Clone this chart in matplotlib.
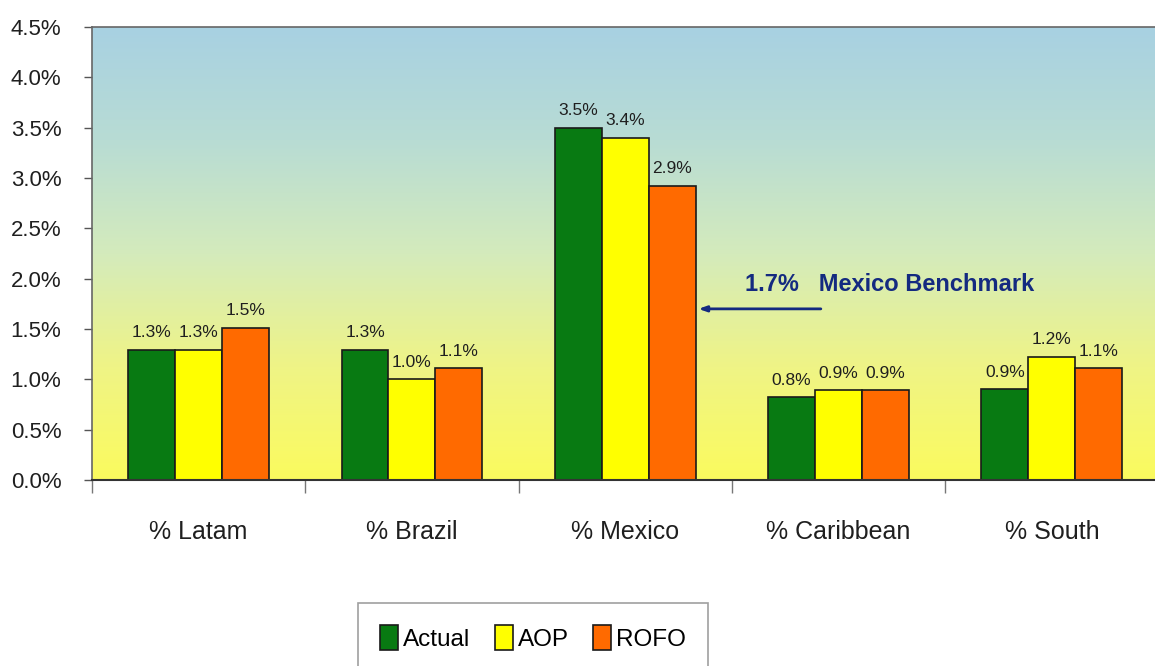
import numpy as np
import matplotlib
matplotlib.use("Agg")
import matplotlib.pyplot as plt
from matplotlib.colors import LinearSegmentedColormap
from matplotlib.patches import Patch

plt.rcParams['font.family'] = ['Liberation Sans', 'DejaVu Sans']

regions = ["% Latam", "% Brazil", "% Mexico", "% Caribbean", "% South"]
actual = [1.29, 1.29, 3.50, 0.82, 0.90]
aop = [1.29, 1.00, 3.40, 0.89, 1.22]
rofo = [1.51, 1.11, 2.92, 0.89, 1.11]
series_names = ["Actual", "AOP", "ROFO"]
series_colors = ["#087a12", "#ffff00", "#ff6a00"]
benchmark = 1.7
yticks = [0.0, 0.5, 1.0, 1.5, 2.0, 2.5, 3.0, 3.5, 4.0, 4.5]

fig = plt.figure(figsize=(11.55, 6.66), dpi=100)
ax = fig.add_axes([92 / 1155, 1 - 480 / 666, 1066.5 / 1155, 453 / 666])

# blue-to-yellow gradient behind the bars
grad = LinearSegmentedColormap.from_list(
    "bg", [(0.0, "#fbfb5e"), (0.25, "#eff486"), (0.5, "#d4ebbc"),
           (0.75, "#b8dcd4"), (1.0, "#a8d1e2")])
ax.imshow(np.linspace(0, 1, 256).reshape(-1, 1), cmap=grad, origin="lower",
          extent=[-0.5, 4.5, 0, 4.5], aspect="auto", zorder=0)

x = np.arange(len(regions))
w = 0.22
for i, (vals, name, col) in enumerate(zip([actual, aop, rofo], series_names, series_colors)):
    bars = ax.bar(x + (i - 1) * w, vals, w, color=col, edgecolor="#1a1a1a",
                  linewidth=1.2, label=name, zorder=2)
    for b, v in zip(bars, vals):
        ax.annotate(f"{v:.1f}%", (b.get_x() + b.get_width() / 2, v),
                    xytext=(0, 7), textcoords="offset points", ha="center",
                    va="bottom", fontsize=12.5, color="#1f1f1f", zorder=3)

# benchmark arrow pointing at the Mexico group
mex_edge = x[2] + w * 1.5
ax.annotate("", xy=(mex_edge, benchmark), xytext=(mex_edge + 0.6, benchmark),
            arrowprops=dict(arrowstyle="-|>,head_length=0.45,head_width=0.16",
                            color="#142a80", lw=2), zorder=3)
ax.text(mex_edge + 0.23, benchmark + 0.13, f"{benchmark:.1f}%   Mexico Benchmark",
        fontsize=17, fontweight="bold", color="#142a80", va="bottom", zorder=3)

ax.set_xlim(-0.5, 4.5)
ax.set_ylim(0, 4.5)
ax.set_yticks(yticks)
ax.set_yticklabels([f"{t:.1f}%" for t in yticks])
ax.set_xticks(x)
ax.set_xticklabels(regions)
ax.set_xticks(np.arange(-0.5, 5, 1), minor=True)
ax.tick_params(axis="y", direction="out", length=6, width=1, color="#555555",
               labelsize=16, pad=16, labelcolor="#1f1f1f")
ax.tick_params(axis="x", which="major", length=0, pad=29, labelsize=18,
               labelcolor="#1f1f1f")
ax.tick_params(axis="x", which="minor", direction="out", length=9, width=1,
               color="#777777")

for s in ["left", "top"]:
    ax.spines[s].set_color("#666666")
    ax.spines[s].set_linewidth(1.2)
ax.spines["bottom"].set_color("#333333")
ax.spines["bottom"].set_linewidth(1.5)
ax.spines["right"].set_visible(False)

handles = [Patch(facecolor=c, edgecolor="#1a1a1a", linewidth=1.2) for c in series_colors]
leg = fig.legend(handles, series_names, loc="upper center",
                 bbox_to_anchor=(533 / 1155, 1 - 603 / 666), ncol=3,
                 fontsize=17.5, frameon=True, fancybox=False, edgecolor="#888888",
                 handlelength=0.75, handleheight=1.2, handletextpad=0.2,
                 columnspacing=1.0, borderpad=0.9, borderaxespad=0)
leg.get_frame().set_linewidth(1.2)

fig.savefig("out.png", dpi=100)
